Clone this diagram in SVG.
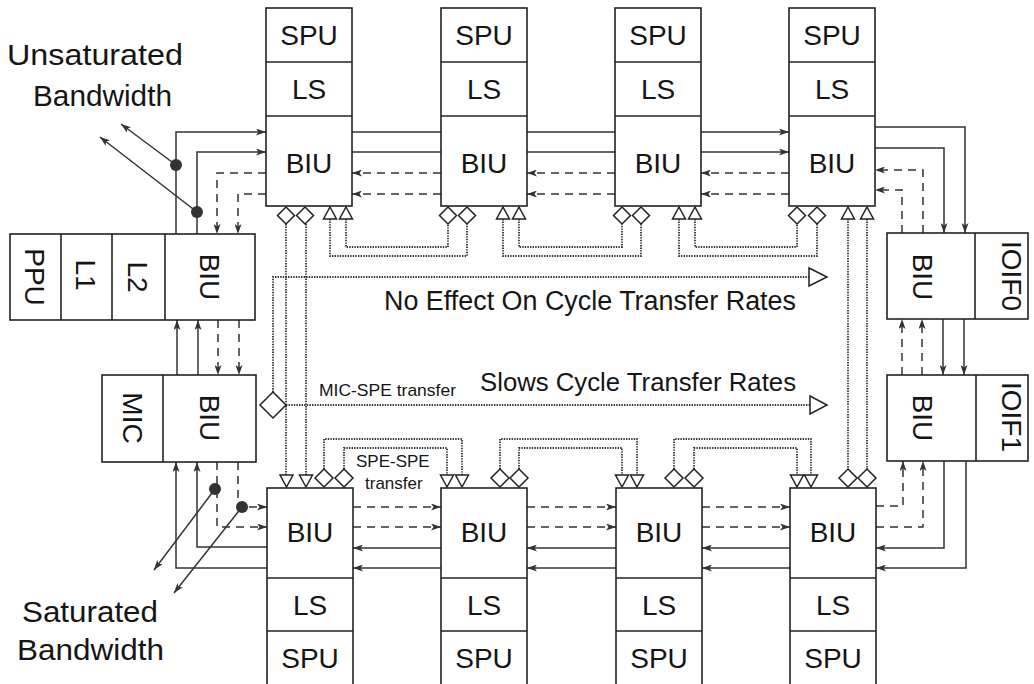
<svg xmlns="http://www.w3.org/2000/svg" width="1034" height="684" viewBox="0 0 1034 684">
<defs>
<marker id="ah" viewBox="0 0 10 7" refX="10" refY="3.5" markerWidth="10" markerHeight="7" markerUnits="userSpaceOnUse" orient="auto"><path d="M0,0 L10,3.5 L0,7 L2.5,3.5 z" fill="#333"/></marker>
<style>
.box{fill:#fff;stroke:#222;stroke-width:1.6}
.dv{stroke:#222;stroke-width:1.6}
.t{font-family:"Liberation Sans",Arial,sans-serif;font-size:28px;fill:#151515}
.tm{text-anchor:middle}
.lab{font-family:"Liberation Sans",Arial,sans-serif;fill:#151515}
.s{fill:none;stroke:#333;stroke-width:1.5}
.d{fill:none;stroke:#333;stroke-width:1.5;stroke-dasharray:8 6}
.o{fill:none;stroke:#333;stroke-width:1.8;stroke-dasharray:1.4 1.2}
.ar{marker-end:url(#ah)}
.sym{fill:#fff;stroke:#222;stroke-width:1.5}
.dot{fill:#333}
</style>
</defs>
<rect width="1034" height="684" fill="#fff"/>

<g id="connectors">
<path class="s ar" d="M352,132 H441 M527,132 H615 M701,132 H789"/>
<path class="s ar" d="M352,152 H441 M527,152 H615 M701,152 H789"/>
<path class="d ar" d="M441,173 H352"/><path class="d ar" d="M615,173 H527"/><path class="d ar" d="M789,173 H701"/>
<path class="d ar" d="M441,194 H352"/><path class="d ar" d="M615,194 H527"/><path class="d ar" d="M789,194 H701"/>
<path class="d ar" d="M353,507 H441"/><path class="d ar" d="M527,507 H616"/><path class="d ar" d="M702,507 H790"/>
<path class="d ar" d="M353,527 H441"/><path class="d ar" d="M527,527 H616"/><path class="d ar" d="M702,527 H790"/>
<path class="s ar" d="M441,548 H353"/><path class="s ar" d="M616,548 H527"/><path class="s ar" d="M790,548 H702"/>
<path class="s ar" d="M441,568 H353"/><path class="s ar" d="M616,568 H527"/><path class="s ar" d="M790,568 H702"/>
<path class="s ar" d="M176,234 V132 H266"/>
<path class="s ar" d="M197,234 V152 H266"/>
<path class="d ar" d="M266,173 H217 V234"/>
<path class="d ar" d="M266,194 H238 V234"/>
<path class="s ar" d="M177,375 V320"/>
<path class="s ar" d="M198,375 V320"/>
<path class="d ar" d="M218,320 V375"/>
<path class="d ar" d="M239,320 V375"/>
<path class="s ar" d="M267,568 H176 V462"/>
<path class="s ar" d="M267,547 H197 V462"/>
<path class="d ar" d="M217,462 V527 H267"/>
<path class="d ar" d="M238,462 V507 H267"/>
<path class="s ar" d="M875,127 H965 V233"/>
<path class="s ar" d="M875,148 H944 V233"/>
<path class="d ar" d="M923,233 V170 H875"/>
<path class="d ar" d="M902,233 V190 H875"/>
<path class="d ar" d="M902,375 V319"/>
<path class="d ar" d="M922,375 V319"/>
<path class="s ar" d="M943,319 V375"/>
<path class="s ar" d="M964,319 V375"/>
<path class="d ar" d="M876,506 H903 V461"/>
<path class="d ar" d="M876,527 H923 V461"/>
<path class="s ar" d="M944,461 V548 H876"/>
<path class="s ar" d="M966,461 V568 H876"/>
<path class="s ar" d="M176,165 L121,124"/>
<path class="s ar" d="M197,212 L100,137"/>
<path class="s ar" d="M215,489 L154,570"/>
<path class="s ar" d="M242,507 L174,593"/>
<circle class="dot" cx="176" cy="165" r="6"/>
<circle class="dot" cx="197" cy="212" r="6"/>
<circle class="dot" cx="215" cy="489" r="6"/>
<circle class="dot" cx="242" cy="507" r="6"/>
<path class="o" d="M286,224 V475 M306,224 V475 M848,219 V469 M867,219 V469"/>
<path class="o" d="M330,219 V256 H467 V224 M346,219 V247 H448 V224"/>
<path class="o" d="M503,219 V256 H641 V224 M519,219 V247 H622 V224"/>
<path class="o" d="M679,219 V256 H817 V224 M695,219 V247 H797 V224"/>
<path class="o" d="M324,469 V439 H462 V475 M344,469 V448 H447 V475"/>
<path class="o" d="M500,469 V439 H637 V475 M519,469 V448 H622 V475"/>
<path class="o" d="M674,469 V439 H811 V475 M694,469 V448 H797 V475"/>
<path class="o" d="M273,392 V277 H809"/>
<path class="o" d="M286,405 H810"/>
<polygon class="sym" points="809,268 827,277 809,286"/>
<polygon class="sym" points="810,396 827,405 810,414"/>
<polygon class="sym" points="273,392 286,405 273,418 260,405"/>
<g class="sym">
<polygon points="286,207 294.5,215.5 286,224 277.5,215.5"/>
<polygon points="305,207 313.5,215.5 305,224 296.5,215.5"/>
<polygon points="448,207 456.5,215.5 448,224 439.5,215.5"/>
<polygon points="467,207 475.5,215.5 467,224 458.5,215.5"/>
<polygon points="622,207 630.5,215.5 622,224 613.5,215.5"/>
<polygon points="641,207 649.5,215.5 641,224 632.5,215.5"/>
<polygon points="797,207 805.5,215.5 797,224 788.5,215.5"/>
<polygon points="817,207 825.5,215.5 817,224 808.5,215.5"/>
<polygon points="330,207 336.5,219 323.5,219"/>
<polygon points="346,207 352.5,219 339.5,219"/>
<polygon points="503,207 509.5,219 496.5,219"/>
<polygon points="519,207 525.5,219 512.5,219"/>
<polygon points="679,207 685.5,219 672.5,219"/>
<polygon points="695,207 701.5,219 688.5,219"/>
<polygon points="848,207 854.5,219 841.5,219"/>
<polygon points="867,207 873.5,219 860.5,219"/>
<polygon points="280,475 293,475 286.5,487"/>
<polygon points="299.5,475 312.5,475 306,487"/>
<polygon points="440.5,475 453.5,475 447,487"/>
<polygon points="455.5,475 468.5,475 462,487"/>
<polygon points="615.5,475 628.5,475 622,487"/>
<polygon points="630.5,475 643.5,475 637,487"/>
<polygon points="790.5,475 803.5,475 797,487"/>
<polygon points="804.5,475 817.5,475 811,487"/>
<polygon points="324,469 333,478 324,487 315,478"/>
<polygon points="344,469 353,478 344,487 335,478"/>
<polygon points="500,469 509,478 500,487 491,478"/>
<polygon points="519,469 528,478 519,487 510,478"/>
<polygon points="674,469 683,478 674,487 665,478"/>
<polygon points="694,469 703,478 694,487 685,478"/>
<polygon points="848,469 857,478 848,487 839,478"/>
<polygon points="867,469 876,478 867,487 858,478"/>
</g>
</g>

<g id="spe-top-1">
<rect class="box" x="266" y="8" width="86" height="198"/>
<line class="dv" x1="266" y1="62" x2="352" y2="62"/><line class="dv" x1="266" y1="116" x2="352" y2="116"/>
<text class="t tm" x="309" y="45">SPU</text><text class="t tm" x="309" y="99">LS</text><text class="t tm" x="309" y="173">BIU</text>
</g>
<g id="spe-top-2">
<rect class="box" x="441" y="8" width="86" height="198"/>
<line class="dv" x1="441" y1="62" x2="527" y2="62"/><line class="dv" x1="441" y1="116" x2="527" y2="116"/>
<text class="t tm" x="484" y="45">SPU</text><text class="t tm" x="484" y="99">LS</text><text class="t tm" x="484" y="173">BIU</text>
</g>
<g id="spe-top-3">
<rect class="box" x="615" y="8" width="86" height="198"/>
<line class="dv" x1="615" y1="62" x2="701" y2="62"/><line class="dv" x1="615" y1="116" x2="701" y2="116"/>
<text class="t tm" x="658" y="45">SPU</text><text class="t tm" x="658" y="99">LS</text><text class="t tm" x="658" y="173">BIU</text>
</g>
<g id="spe-top-4">
<rect class="box" x="789" y="8" width="86" height="198"/>
<line class="dv" x1="789" y1="62" x2="875" y2="62"/><line class="dv" x1="789" y1="116" x2="875" y2="116"/>
<text class="t tm" x="832" y="45">SPU</text><text class="t tm" x="832" y="99">LS</text><text class="t tm" x="832" y="173">BIU</text>
</g>

<g id="spe-bot-1">
<rect class="box" x="267" y="488" width="86" height="200"/>
<line class="dv" x1="267" y1="578" x2="353" y2="578"/><line class="dv" x1="267" y1="631" x2="353" y2="631"/>
<text class="t tm" x="310" y="542">BIU</text><text class="t tm" x="310" y="615">LS</text><text class="t tm" x="310" y="668">SPU</text>
</g>
<g id="spe-bot-2">
<rect class="box" x="441" y="488" width="86" height="200"/>
<line class="dv" x1="441" y1="578" x2="527" y2="578"/><line class="dv" x1="441" y1="631" x2="527" y2="631"/>
<text class="t tm" x="484" y="542">BIU</text><text class="t tm" x="484" y="615">LS</text><text class="t tm" x="484" y="668">SPU</text>
</g>
<g id="spe-bot-3">
<rect class="box" x="616" y="488" width="86" height="200"/>
<line class="dv" x1="616" y1="578" x2="702" y2="578"/><line class="dv" x1="616" y1="631" x2="702" y2="631"/>
<text class="t tm" x="659" y="542">BIU</text><text class="t tm" x="659" y="615">LS</text><text class="t tm" x="659" y="668">SPU</text>
</g>
<g id="spe-bot-4">
<rect class="box" x="790" y="488" width="86" height="200"/>
<line class="dv" x1="790" y1="578" x2="876" y2="578"/><line class="dv" x1="790" y1="631" x2="876" y2="631"/>
<text class="t tm" x="833" y="542">BIU</text><text class="t tm" x="833" y="615">LS</text><text class="t tm" x="833" y="668">SPU</text>
</g>

<g id="ppe">
<rect class="box" x="10" y="234" width="245" height="86"/>
<line class="dv" x1="61" y1="234" x2="61" y2="320"/><line class="dv" x1="112" y1="234" x2="112" y2="320"/><line class="dv" x1="165" y1="234" x2="165" y2="320"/>
<text class="t tm" transform="translate(35,277) rotate(90)" y="10">PPU</text>
<text class="t tm" transform="translate(86,275) rotate(90)" y="10">L1</text>
<text class="t tm" transform="translate(138,277) rotate(90)" y="10">L2</text>
<text class="t tm" transform="translate(210,277) rotate(90)" y="10">BIU</text>
</g>
<g id="mic">
<rect class="box" x="102" y="375" width="154" height="87"/>
<line class="dv" x1="163" y1="375" x2="163" y2="462"/>
<text class="t tm" transform="translate(133,418) rotate(90)" y="10">MIC</text>
<text class="t tm" transform="translate(210,418) rotate(90)" y="10">BIU</text>
</g>
<g id="ioif0">
<rect class="box" x="887" y="233" width="141" height="86"/>
<line class="dv" x1="975" y1="233" x2="975" y2="319"/>
<text class="t tm" transform="translate(923,277) rotate(90)" y="10">BIU</text>
<text class="t tm" transform="translate(1012,276) rotate(90)" y="10">IOIF0</text>
</g>
<g id="ioif1">
<rect class="box" x="887" y="375" width="141" height="86"/>
<line class="dv" x1="976" y1="375" x2="976" y2="461"/>
<text class="t tm" transform="translate(923,418) rotate(90)" y="10">BIU</text>
<text class="t tm" transform="translate(1012,417) rotate(90)" y="10">IOIF1</text>
</g>

<g id="labels">
<text class="lab" x="7" y="65" font-size="29" textLength="176" lengthAdjust="spacingAndGlyphs">Unsaturated</text>
<text class="lab" x="33" y="106" font-size="29" textLength="139" lengthAdjust="spacingAndGlyphs">Bandwidth</text>
<text class="lab" x="22" y="622" font-size="29" textLength="136" lengthAdjust="spacingAndGlyphs">Saturated</text>
<text class="lab" x="17" y="660" font-size="29" textLength="147" lengthAdjust="spacingAndGlyphs">Bandwidth</text>
<text class="lab" x="384" y="310" font-size="27" textLength="412" lengthAdjust="spacingAndGlyphs">No Effect On Cycle Transfer Rates</text>
<text class="lab" x="480" y="391" font-size="26" textLength="316" lengthAdjust="spacingAndGlyphs">Slows Cycle Transfer Rates</text>
<text class="lab" x="319" y="396" font-size="17" textLength="137" lengthAdjust="spacingAndGlyphs">MIC-SPE transfer</text>
<text class="lab" x="356" y="467" font-size="17">SPE-SPE</text>
<text class="lab" x="365" y="489" font-size="17">transfer</text>
</g>
</svg>
